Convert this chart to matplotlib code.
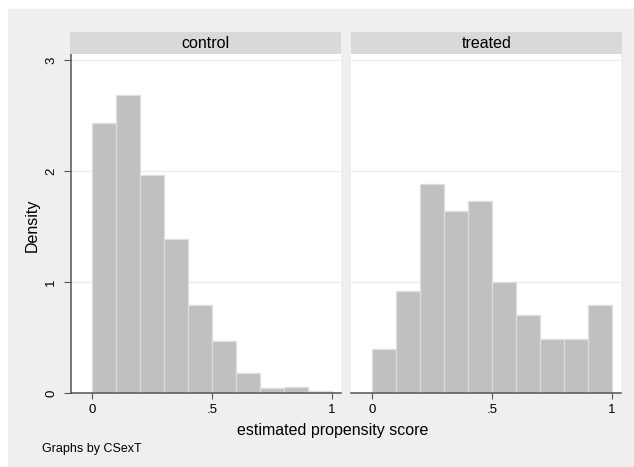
import matplotlib
matplotlib.use("Agg")
from matplotlib import pyplot as plt
from matplotlib.patches import Rectangle

plt.rcParams['font.family'] = ['Liberation Sans', 'DejaVu Sans']

# histogram bins (left edges, width 0.1) and densities
bin_left = [0.0, 0.1, 0.2, 0.3, 0.4, 0.5, 0.6, 0.7, 0.8, 0.9]
bin_width = 0.1
control = [2.43, 2.685, 1.96, 1.384, 0.79, 0.465, 0.183, 0.042, 0.054, 0.021]
treated = [0.393, 0.916, 1.88, 1.64, 1.73, 1.0, 0.703, 0.486, 0.486, 0.793]
panels = ['control', 'treated']
x_ticks = [0, 0.5, 1]
x_ticklabels = ['0', '.5', '1']
y_ticks = [0, 1, 2, 3]

W, H = 634, 467
BG = '#efefef'
STRIP = '#d9d9d9'
BAR = '#c0c0c0'
BAR_EDGE = '#dedede'
AXIS = '#555555'


def px(x, y, w, h):
    # pixel box (top-left origin) -> figure fraction
    return [x / W, 1 - (y + h) / H, w / W, h / H]


fig = plt.figure(figsize=(W / 100, H / 100), dpi=100)
fig.patch.set_facecolor('white')
fig.patches.append(Rectangle((8 / W, 0), 1 - 8 / W, (H - 9) / H,
                             transform=fig.transFigure, color=BG, zorder=-10))

axes = [fig.add_axes(px(71, 54, 270, 339)), fig.add_axes(px(351, 54, 270, 339))]
strips = [fig.add_axes(px(70, 32, 271, 22)), fig.add_axes(px(351, 32, 271, 22))]

for i, (ax, data) in enumerate(zip(axes, [control, treated])):
    ax.set_facecolor('white')
    ax.bar(bin_left, data, width=bin_width, align='edge', color=BAR,
           edgecolor=BAR_EDGE, linewidth=0.9, zorder=2)
    ax.set_xlim(-0.0875, 1.0375)
    ax.set_ylim(0, 3.054)
    ax.set_yticks(y_ticks)
    ax.yaxis.grid(True, color='#ececec', linewidth=1.0, zorder=0)
    ax.set_axisbelow(True)
    ax.set_xticks(x_ticks)
    ax.set_xticklabels(x_ticklabels)
    for s in ['top', 'right']:
        ax.spines[s].set_visible(False)
    ax.spines['bottom'].set_color(AXIS)
    ax.spines['bottom'].set_linewidth(1.1)
    ax.spines['bottom'].set_zorder(3)
    ax.tick_params(axis='x', length=4, width=0.8, color=AXIS, pad=4,
                   labelsize=9.5, labelcolor='black')
    if i == 0:
        ax.spines['left'].set_color(AXIS)
        ax.spines['left'].set_linewidth(1.1)
        ax.tick_params(axis='y', length=5, width=0.8, color=AXIS, pad=5,
                       labelsize=9.5, labelrotation=90)
        for lab in ax.get_yticklabels():
            lab.set_va('center')
    else:
        ax.spines['left'].set_visible(False)
        ax.tick_params(axis='y', length=0, labelleft=False)

for sx, name in zip(strips, panels):
    sx.set_facecolor(STRIP)
    sx.set_xticks([])
    sx.set_yticks([])
    for s in sx.spines.values():
        s.set_visible(False)
    sx.text(0.5, 0.5, name, transform=sx.transAxes, ha='center', va='center',
            fontsize=11.5)

fig.text(32 / W, 1 - 225 / H, 'Density', rotation=90, ha='center', va='center',
         fontsize=11.5)
fig.text(333 / W, 1 - 431 / H, 'estimated propensity score', ha='center',
         va='center', fontsize=11.5)
fig.text(42 / W, 1 - 449 / H, 'Graphs by CSexT', ha='left', va='center',
         fontsize=9)

fig.savefig('out.png', dpi=100, facecolor=fig.get_facecolor())
